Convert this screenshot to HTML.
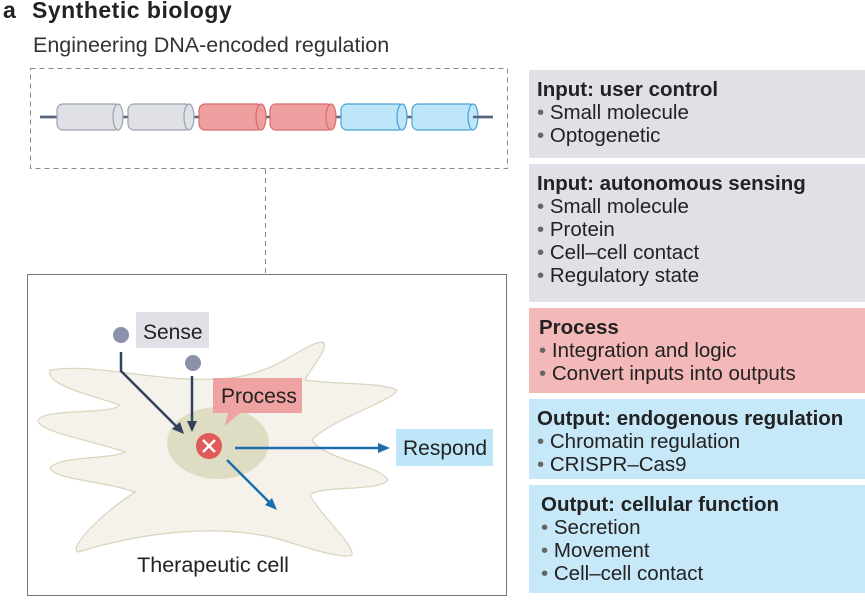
<!DOCTYPE html>
<html><head><style>
body{margin:0;width:865px;height:613px;background:#fff;font-family:"Liberation Sans",sans-serif;color:#222;position:relative;overflow:hidden}
.b{position:absolute;left:529px;width:336px;box-sizing:border-box;padding:8px 0 0 8px;font-size:20.5px;line-height:23px;white-space:nowrap}
.b b{display:block;font-size:20.5px}
.b div::before{content:"• ";color:#666}
.g{background:#dfe1e6}.p{background:#f3b9b8}.c{background:#c7e8f8}
</style></head><body>
<div style="position:absolute;left:3px;top:-3px;font-size:23px;font-weight:bold">a</div>
<div style="position:absolute;left:32px;top:-3px;font-size:23px;font-weight:bold;letter-spacing:0.5px">Synthetic biology</div>
<div style="position:absolute;left:33px;top:33px;font-size:21.5px;color:#333">Engineering DNA-encoded regulation</div>
<svg width="865" height="613" style="position:absolute;left:0;top:0">
<rect x="30.5" y="68.5" width="477" height="100" fill="none" stroke="#888" stroke-dasharray="5,4"/>
<line x1="265.5" y1="169" x2="265.5" y2="273" stroke="#888" stroke-dasharray="5,4"/>
<line x1="40" y1="117" x2="493" y2="117" stroke="#56657e" stroke-width="2.5"/>
<g stroke-width="1.2">
<g fill="#dfe1e6" stroke="#9aa0ad"><rect x="57" y="104" width="63" height="26" rx="6"/><ellipse cx="118" cy="117" rx="5" ry="13"/><rect x="128" y="104" width="63" height="26" rx="6"/><ellipse cx="189" cy="117" rx="5" ry="13"/></g>
<g fill="#ef9fa0" stroke="#d76a6c"><rect x="199" y="104" width="64" height="26" rx="6"/><ellipse cx="261" cy="117" rx="5" ry="13"/><rect x="270" y="104" width="63" height="26" rx="6"/><ellipse cx="331" cy="117" rx="5" ry="13"/></g>
<g fill="#bde6f8" stroke="#4a9fd4"><rect x="341" y="104" width="63" height="26" rx="6"/><ellipse cx="402" cy="117" rx="5" ry="13"/><rect x="412" y="104" width="63" height="26" rx="6"/><ellipse cx="473" cy="117" rx="5" ry="13"/></g>
</g>
<line x1="40" y1="117" x2="55" y2="117" stroke="#56657e" stroke-width="2.5"/>
<line x1="473" y1="117" x2="493" y2="117" stroke="#56657e" stroke-width="2.5"/>
<rect x="27.5" y="274.5" width="479" height="321" fill="#fff" stroke="#777"/>
<path d="M50,370 C100,362 160,385 230,378 C280,372 300,345 322,342 C332,345 308,372 305,380 C340,385 380,382 397,390 C395,400 330,420 312,440 C325,460 380,465 388,480 C380,492 320,485 310,495 C320,515 355,545 352,555 C340,560 300,545 275,538 C220,525 150,530 78,552 C68,548 100,515 135,492 C100,480 55,480 50,468 C60,455 110,460 125,452 C90,440 38,432 38,420 C45,408 110,415 120,405 C90,395 45,385 50,370 Z" fill="#f4f2ea" stroke="#d9d4bc" stroke-width="1.2"/>
<ellipse cx="218" cy="443" rx="51" ry="36" fill="#dedcc3"/>
<rect x="136" y="312" width="73" height="36" fill="#dfe1e6"/>
<circle cx="121" cy="335" r="8" fill="#8a91a8"/>
<circle cx="193" cy="363" r="8" fill="#8a91a8"/>
<g stroke="#33425c" stroke-width="2.5" fill="none"><polyline points="121,352 121,371 180,430"/><line x1="192" y1="376" x2="192" y2="424"/></g>
<polygon points="184,434 172,429 180,422" fill="#33425c"/>
<polygon points="192,432 187,421 197,421" fill="#33425c"/>
<path d="M213,378 H302 V413 H240 L225,426 L228,413 H213 Z" fill="#eea2a2"/>
<circle cx="209" cy="446" r="13" fill="#e05a5a"/>
<g stroke="#fff" stroke-width="2.5"><line x1="203" y1="440" x2="215" y2="452"/><line x1="215" y1="440" x2="203" y2="452"/></g>
<g stroke="#1c6fae" stroke-width="2.5"><line x1="235" y1="448" x2="382" y2="448"/><line x1="227" y1="460" x2="271" y2="504"/></g>
<polygon points="390,448 378,443 378,453" fill="#1c6fae"/>
<polygon points="277,510 265,505 272,498" fill="#1c6fae"/>
<rect x="396" y="429" width="97" height="37" fill="#bde6f8"/>
<text x="143" y="339" font-size="21" fill="#222">Sense</text>
<text x="221" y="403" font-size="21" fill="#222">Process</text>
<text x="403" y="455" font-size="21" fill="#222">Respond</text>
<text x="213" y="572" font-size="21.5" fill="#222" text-anchor="middle">Therapeutic cell</text>
</svg>
<div class="b g" style="top:70px;height:88px"><b>Input: user control</b><div>Small molecule</div><div>Optogenetic</div></div>
<div class="b g" style="top:164px;height:138px"><b>Input: autonomous sensing</b><div>Small molecule</div><div>Protein</div><div>Cell–cell contact</div><div>Regulatory state</div></div>
<div class="b p" style="top:308px;height:85px;padding-left:10px"><b>Process</b><div>Integration and logic</div><div>Convert inputs into outputs</div></div>
<div class="b c" style="top:399px;height:80px"><b>Output: endogenous regulation</b><div>Chromatin regulation</div><div>CRISPR–Cas9</div></div>
<div class="b c" style="top:485px;height:108px;padding-left:12px"><b>Output: cellular function</b><div>Secretion</div><div>Movement</div><div>Cell–cell contact</div></div>
</body></html>
